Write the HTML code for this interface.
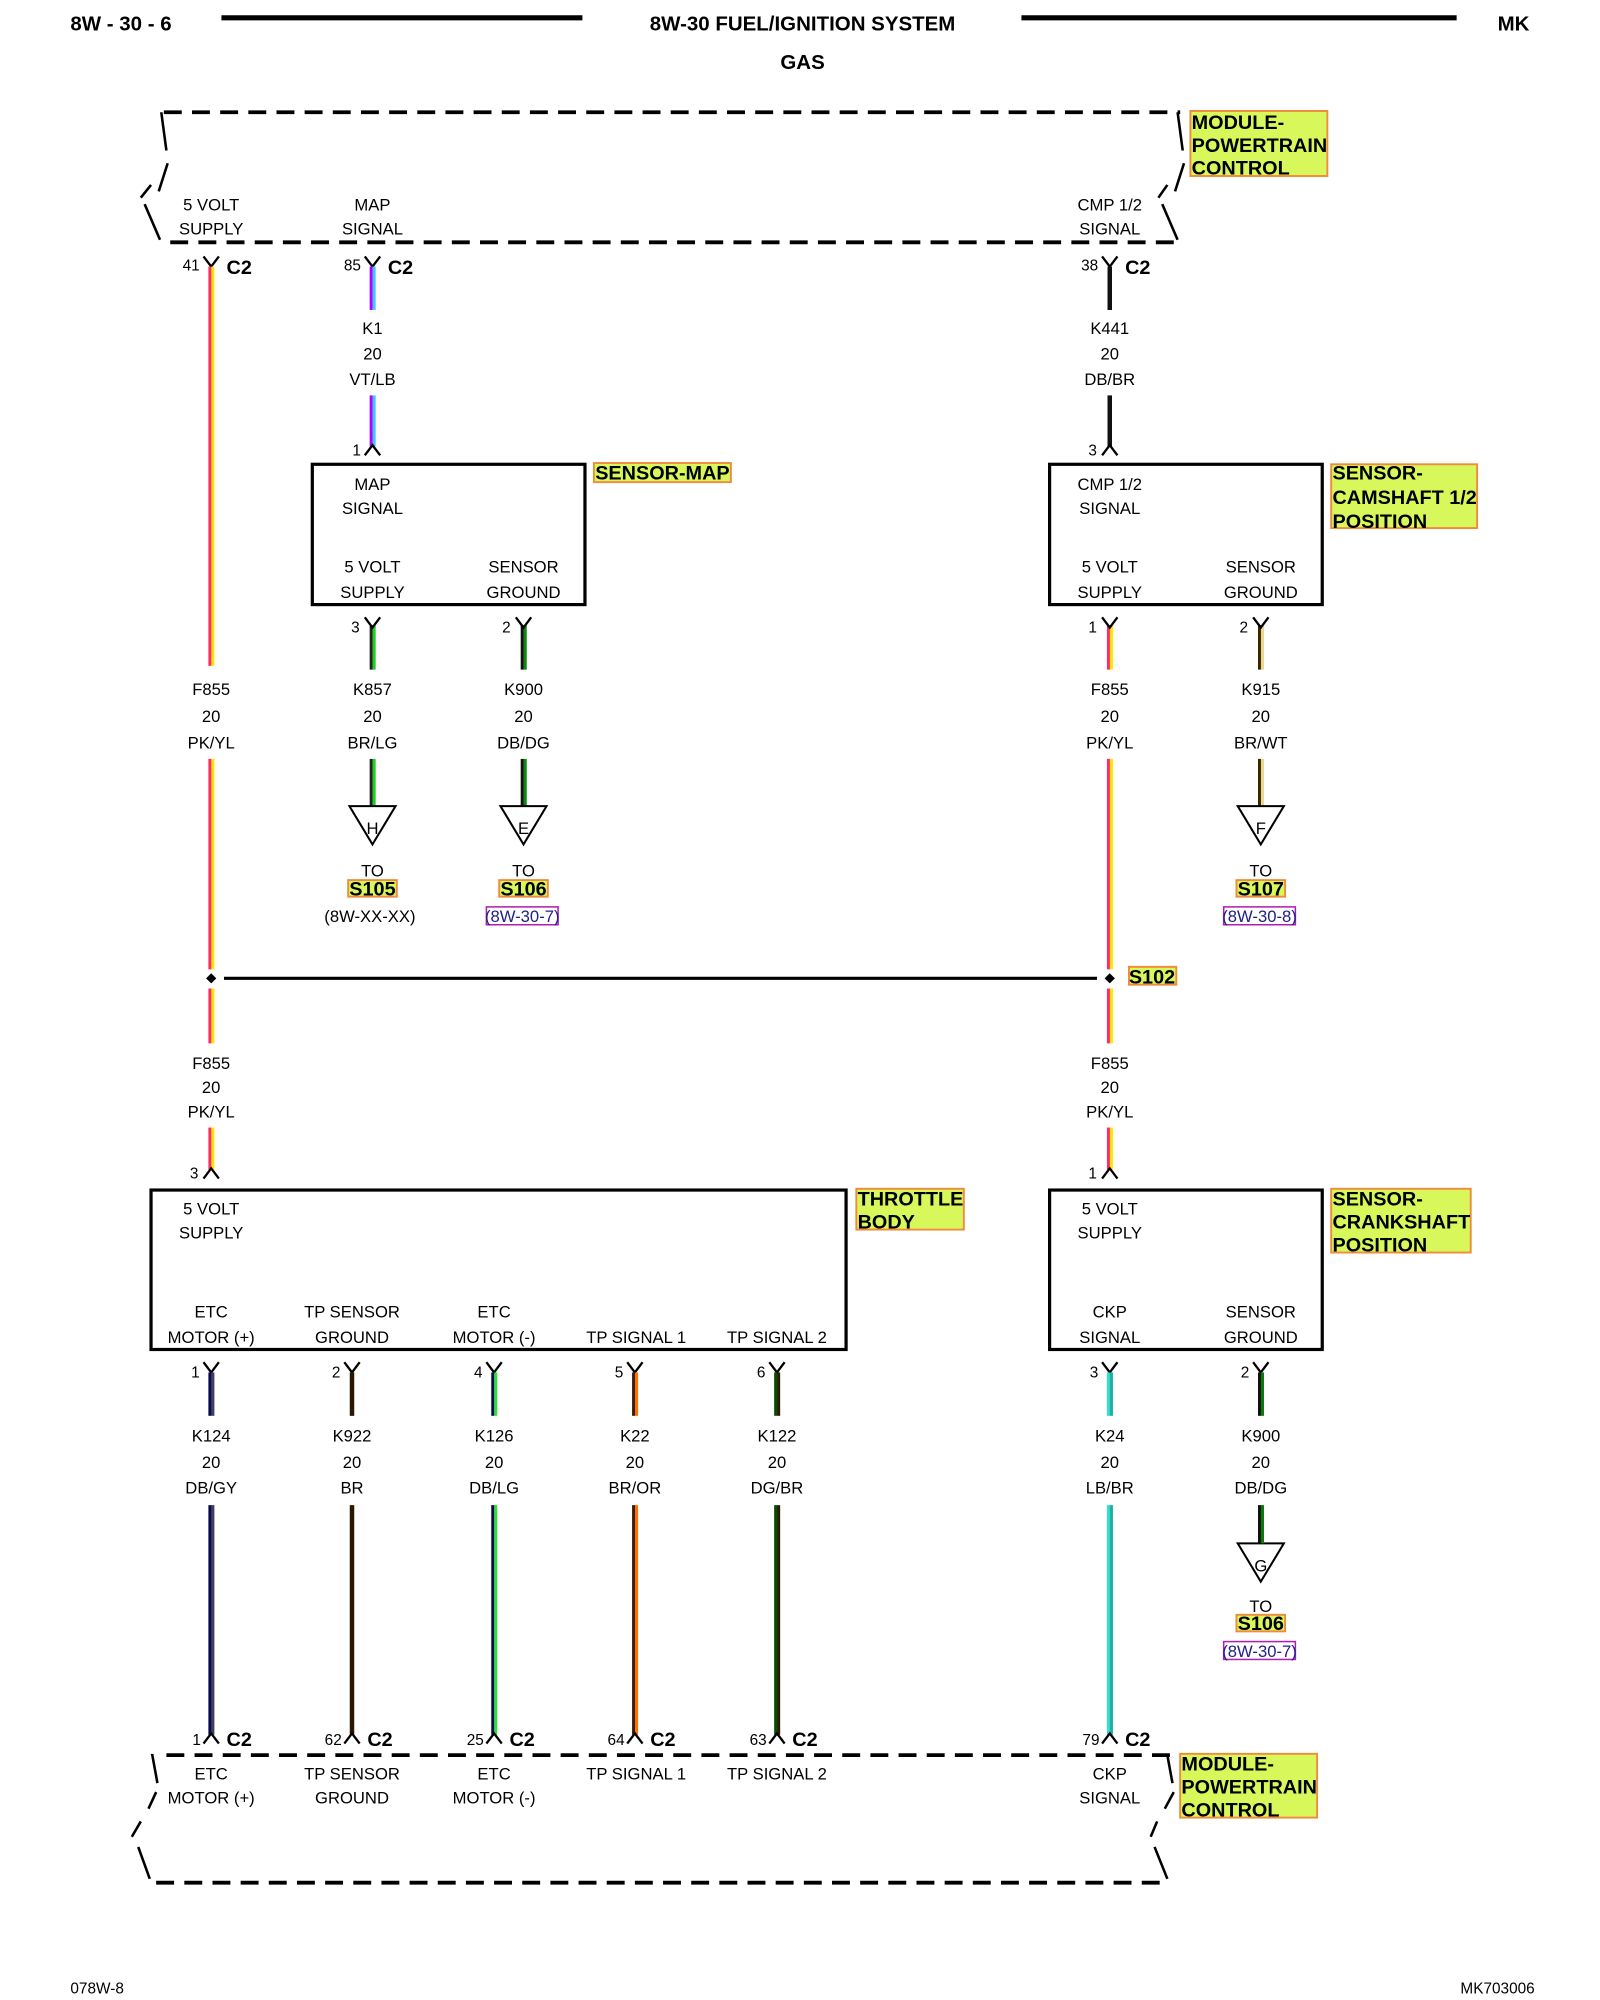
<!DOCTYPE html>
<html><head><meta charset="utf-8">
<style>
html,body{margin:0;padding:0;background:#fff;}
svg{display:block;}
text{font-family:"Liberation Sans",sans-serif;fill:#000;}
.s{font-size:13px;text-anchor:middle;}
.n{font-size:12px;text-anchor:end;}
.b{font-size:15.5px;font-weight:bold;}
.h{font-size:16px;font-weight:bold;}
.hl{fill:#d8f75a;stroke:#f08a3c;stroke-width:1.5;}
.d{fill:none;stroke:#000;stroke-width:3;stroke-dasharray:14 8;}
.box{fill:none;stroke:#000;stroke-width:2.5;}
.pin{fill:none;stroke:#000;stroke-width:1.8;}
</style></head><body>
<svg width="1600" height="2000" viewBox="0 0 1250 1568" preserveAspectRatio="none" xmlns="http://www.w3.org/2000/svg">
<!-- header -->
<text class="h" x="55" y="24">8W - 30 - 6</text>
<line x1="173" y1="14" x2="455" y2="14" stroke="#000" stroke-width="4"/>
<text class="h" x="627" y="24" text-anchor="middle">8W-30 FUEL/IGNITION SYSTEM</text>
<line x1="798" y1="14" x2="1138" y2="14" stroke="#000" stroke-width="4"/>
<text class="h" x="1170" y="24">MK</text>
<text class="h" x="627" y="54" text-anchor="middle">GAS</text>

<!-- top module -->
<line class="d" x1="128" y1="88" x2="922" y2="88"/>
<line class="d" x1="133" y1="190" x2="922" y2="190"/>
<path d="M126 88 L130 118 M131 128 L124 150 M118 145 L110 155 M113 160 L125 188" stroke="#000" stroke-width="2" fill="none"/>
<path d="M920 88 L924 118 M925 128 L918 150 M912 145 L905 155 M908 160 L920 188" stroke="#000" stroke-width="2" fill="none"/>
<rect class="hl" x="930" y="87" width="107" height="51"/>
<text class="b" x="931" y="101">MODULE-</text>
<text class="b" x="931" y="119">POWERTRAIN</text>
<text class="b" x="931" y="137">CONTROL</text>
<text class="s" x="165" y="165">5 VOLT</text><text class="s" x="165" y="184">SUPPLY</text>
<text class="s" x="291" y="165">MAP</text><text class="s" x="291" y="184">SIGNAL</text>
<text class="s" x="867" y="165">CMP 1/2</text><text class="s" x="867" y="184">SIGNAL</text>

<!-- top connectors (Y) -->
<g class="pin">
<path d="M159 201 L165 209 L171 201"/><path d="M285 201 L291 209 L297 201"/><path d="M861 201 L867 209 L873 201"/>
</g>
<text class="n" x="156" y="212">41</text><text class="b" x="177" y="215">C2</text>
<text class="n" x="282" y="212">85</text><text class="b" x="303" y="215">C2</text>
<text class="n" x="858" y="212">38</text><text class="b" x="879" y="215">C2</text>

<!-- wires column 165 PK/YL -->
<g stroke-width="2.4">
<line x1="164" y1="209" x2="164" y2="522" stroke="#ff2a6a"/><line x1="166.3" y1="209" x2="166.3" y2="522" stroke="#ffe600"/>
<line x1="164" y1="595" x2="164" y2="760" stroke="#ff2a6a"/><line x1="166.3" y1="595" x2="166.3" y2="760" stroke="#ffe600"/>
<line x1="164" y1="775" x2="164" y2="818" stroke="#ff2a6a"/><line x1="166.3" y1="775" x2="166.3" y2="818" stroke="#ffe600"/>
<line x1="164" y1="884" x2="164" y2="917" stroke="#ff2a6a"/><line x1="166.3" y1="884" x2="166.3" y2="917" stroke="#ffe600"/>
<!-- K1 VT/LB -->
<line x1="290" y1="209" x2="290" y2="243" stroke="#b000ff"/><line x1="292.3" y1="209" x2="292.3" y2="243" stroke="#40c8ff"/>
<line x1="290" y1="310" x2="290" y2="350" stroke="#b000ff"/><line x1="292.3" y1="310" x2="292.3" y2="350" stroke="#40c8ff"/>
<!-- K441 -->
<line x1="867" y1="209" x2="867" y2="243" stroke="#111" stroke-width="3.5"/>
<line x1="867" y1="310" x2="867" y2="350" stroke="#111" stroke-width="3.5"/>
<!-- K857 BR/LG -->
<line x1="290" y1="490" x2="290" y2="525" stroke="#222"/><line x1="292.3" y1="490" x2="292.3" y2="525" stroke="#20d020"/>
<line x1="290" y1="595" x2="290" y2="632" stroke="#222"/><line x1="292.3" y1="595" x2="292.3" y2="632" stroke="#20d020"/>
<!-- K900 DB/DG -->
<line x1="408" y1="490" x2="408" y2="525" stroke="#111"/><line x1="410.3" y1="490" x2="410.3" y2="525" stroke="#0a8a0a"/>
<line x1="408" y1="595" x2="408" y2="632" stroke="#111"/><line x1="410.3" y1="595" x2="410.3" y2="632" stroke="#0a8a0a"/>
<!-- F855 right -->
<line x1="866" y1="490" x2="866" y2="525" stroke="#ff2a6a"/><line x1="868.3" y1="490" x2="868.3" y2="525" stroke="#ffe600"/>
<line x1="866" y1="595" x2="866" y2="760" stroke="#ff2a6a"/><line x1="868.3" y1="595" x2="868.3" y2="760" stroke="#ffe600"/>
<line x1="866" y1="775" x2="866" y2="818" stroke="#ff2a6a"/><line x1="868.3" y1="775" x2="868.3" y2="818" stroke="#ffe600"/>
<line x1="866" y1="884" x2="866" y2="917" stroke="#ff2a6a"/><line x1="868.3" y1="884" x2="868.3" y2="917" stroke="#ffe600"/>
<!-- K915 BR/WT -->
<line x1="984" y1="490" x2="984" y2="525" stroke="#3a2600"/><line x1="986.3" y1="490" x2="986.3" y2="525" stroke="#e8d890"/>
<line x1="984" y1="595" x2="984" y2="632" stroke="#3a2600"/><line x1="986.3" y1="595" x2="986.3" y2="632" stroke="#e8d890"/>
</g>
<text class="s" x="291" y="262">K1</text><text class="s" x="291" y="282">20</text><text class="s" x="291" y="302">VT/LB</text>
<text class="s" x="867" y="262">K441</text><text class="s" x="867" y="282">20</text><text class="s" x="867" y="302">DB/BR</text>

<!-- carets into sensor boxes -->
<g class="pin"><path d="M285 357 L291 349 L297 357"/><path d="M861 357 L867 349 L873 357"/></g>
<text class="n" x="282" y="357">1</text><text class="n" x="857" y="357">3</text>

<!-- sensor MAP box -->
<rect class="box" x="244" y="364" width="213" height="110"/>
<rect class="hl" x="464" y="363" width="107" height="15"/>
<text class="b" x="465" y="376">SENSOR-MAP</text>
<text class="s" x="291" y="384">MAP</text><text class="s" x="291" y="403">SIGNAL</text>
<text class="s" x="291" y="449">5 VOLT</text><text class="s" x="291" y="469">SUPPLY</text>
<text class="s" x="409" y="449">SENSOR</text><text class="s" x="409" y="469">GROUND</text>
<!-- CMP box -->
<rect class="box" x="820" y="364" width="213" height="110"/>
<rect class="hl" x="1040" y="364" width="114" height="50"/>
<text class="b" x="1041" y="376">SENSOR-</text><text class="b" x="1041" y="395">CAMSHAFT 1/2</text><text class="b" x="1041" y="414">POSITION</text>
<text class="s" x="867" y="384">CMP 1/2</text><text class="s" x="867" y="403">SIGNAL</text>
<text class="s" x="867" y="449">5 VOLT</text><text class="s" x="867" y="469">SUPPLY</text>
<text class="s" x="985" y="449">SENSOR</text><text class="s" x="985" y="469">GROUND</text>

<!-- Y pins below sensor boxes -->
<g class="pin">
<path d="M285 484 L291 492 L297 484"/><path d="M403 484 L409 492 L415 484"/>
<path d="M861 484 L867 492 L873 484"/><path d="M979 484 L985 492 L991 484"/>
</g>
<text class="n" x="281" y="496">3</text><text class="n" x="399" y="496">2</text>
<text class="n" x="857" y="496">1</text><text class="n" x="975" y="496">2</text>

<text class="s" x="165" y="545">F855</text><text class="s" x="165" y="566">20</text><text class="s" x="165" y="587">PK/YL</text>
<text class="s" x="291" y="545">K857</text><text class="s" x="291" y="566">20</text><text class="s" x="291" y="587">BR/LG</text>
<text class="s" x="409" y="545">K900</text><text class="s" x="409" y="566">20</text><text class="s" x="409" y="587">DB/DG</text>
<text class="s" x="867" y="545">F855</text><text class="s" x="867" y="566">20</text><text class="s" x="867" y="587">PK/YL</text>
<text class="s" x="985" y="545">K915</text><text class="s" x="985" y="566">20</text><text class="s" x="985" y="587">BR/WT</text>

<!-- splice triangles -->
<g fill="#fff" stroke="#000" stroke-width="1.6">
<path d="M273 632 L309 632 L291 662 Z"/><path d="M391 632 L427 632 L409 662 Z"/><path d="M967 632 L1003 632 L985 662 Z"/>
<path d="M967 1210 L1003 1210 L985 1240 Z"/>
</g>
<text class="s" x="291" y="654">H</text><text class="s" x="409" y="654">E</text><text class="s" x="985" y="654">F</text><text class="s" x="985" y="1232">G</text>

<text class="s" x="291" y="687">TO</text><text class="s" x="409" y="687">TO</text><text class="s" x="985" y="687">TO</text><text class="s" x="985" y="1264">TO</text>
<rect class="hl" x="272" y="690" width="38" height="13"/><text class="b" x="291" y="702" text-anchor="middle">S105</text>
<rect class="hl" x="390" y="690" width="38" height="13"/><text class="b" x="409" y="702" text-anchor="middle">S106</text>
<rect class="hl" x="966" y="690" width="38" height="13"/><text class="b" x="985" y="702" text-anchor="middle">S107</text>
<rect class="hl" x="966" y="1266" width="38" height="13"/><text class="b" x="985" y="1278" text-anchor="middle">S106</text>
<text class="s" x="289" y="723">(8W-XX-XX)</text>
<rect x="380" y="711" width="56" height="14" fill="none" stroke="#b020b0" stroke-width="1.2"/><text class="s" x="408" y="723" fill="#20208a" style="fill:#20208a">(8W-30-7)</text>
<rect x="956" y="711" width="56" height="14" fill="none" stroke="#b020b0" stroke-width="1.2"/><text class="s" x="984" y="723" style="fill:#20208a">(8W-30-8)</text>
<rect x="956" y="1287" width="56" height="14" fill="none" stroke="#b020b0" stroke-width="1.2"/><text class="s" x="984" y="1299" style="fill:#20208a">(8W-30-7)</text>

<!-- S102 -->
<line x1="175" y1="767" x2="857" y2="767" stroke="#000" stroke-width="2.5"/>
<path d="M165 763 L169 767 L165 771 L161 767 Z" fill="#000"/>
<path d="M867 763 L871 767 L867 771 L863 767 Z" fill="#000"/>
<rect class="hl" x="882" y="758" width="37" height="14"/><text class="b" x="900" y="771" text-anchor="middle">S102</text>

<text class="s" x="165" y="838">F855</text><text class="s" x="165" y="857">20</text><text class="s" x="165" y="876">PK/YL</text>
<text class="s" x="867" y="838">F855</text><text class="s" x="867" y="857">20</text><text class="s" x="867" y="876">PK/YL</text>
<g class="pin"><path d="M159 924 L165 916 L171 924"/><path d="M861 924 L867 916 L873 924"/></g>
<text class="n" x="155" y="924">3</text><text class="n" x="857" y="924">1</text>

<!-- throttle body -->
<rect class="box" x="118" y="933" width="543" height="125"/>
<rect class="hl" x="669" y="932" width="84" height="32"/>
<text class="b" x="670" y="945">THROTTLE</text><text class="b" x="670" y="963">BODY</text>
<text class="s" x="165" y="952">5 VOLT</text><text class="s" x="165" y="971">SUPPLY</text>
<text class="s" x="165" y="1033">ETC</text><text class="s" x="165" y="1053">MOTOR (+)</text>
<text class="s" x="275" y="1033">TP SENSOR</text><text class="s" x="275" y="1053">GROUND</text>
<text class="s" x="386" y="1033">ETC</text><text class="s" x="386" y="1053">MOTOR (-)</text>
<text class="s" x="497" y="1053">TP SIGNAL 1</text>
<text class="s" x="607" y="1053">TP SIGNAL 2</text>
<!-- crank -->
<rect class="box" x="820" y="933" width="213" height="125"/>
<rect class="hl" x="1040" y="932" width="109" height="50"/>
<text class="b" x="1041" y="945">SENSOR-</text><text class="b" x="1041" y="963">CRANKSHAFT</text><text class="b" x="1041" y="981">POSITION</text>
<text class="s" x="867" y="952">5 VOLT</text><text class="s" x="867" y="971">SUPPLY</text>
<text class="s" x="867" y="1033">CKP</text><text class="s" x="867" y="1053">SIGNAL</text>
<text class="s" x="985" y="1033">SENSOR</text><text class="s" x="985" y="1053">GROUND</text>

<!-- bottom pins -->
<g class="pin">
<path d="M159 1068 L165 1076 L171 1068"/><path d="M269 1068 L275 1076 L281 1068"/><path d="M380 1068 L386 1076 L392 1068"/>
<path d="M490 1068 L496 1076 L502 1068"/><path d="M601 1068 L607 1076 L613 1068"/><path d="M861 1068 L867 1076 L873 1068"/>
<path d="M979 1068 L985 1076 L991 1068"/>
</g>
<text class="n" x="156" y="1080">1</text><text class="n" x="266" y="1080">2</text><text class="n" x="377" y="1080">4</text>
<text class="n" x="487" y="1080">5</text><text class="n" x="598" y="1080">6</text><text class="n" x="858" y="1080">3</text><text class="n" x="976" y="1080">2</text>

<g stroke-width="2.4">
<line x1="164" y1="1076" x2="164" y2="1110" stroke="#0a0a50"/><line x1="166.3" y1="1076" x2="166.3" y2="1110" stroke="#404058"/>
<line x1="164" y1="1180" x2="164" y2="1360" stroke="#0a0a50"/><line x1="166.3" y1="1180" x2="166.3" y2="1360" stroke="#404058"/>
<line x1="275" y1="1076" x2="275" y2="1110" stroke="#2a1800" stroke-width="3.5"/>
<line x1="275" y1="1180" x2="275" y2="1360" stroke="#2a1800" stroke-width="3.5"/>
<line x1="385" y1="1076" x2="385" y2="1110" stroke="#0a0a50"/><line x1="387.3" y1="1076" x2="387.3" y2="1110" stroke="#30e030"/>
<line x1="385" y1="1180" x2="385" y2="1360" stroke="#0a0a50"/><line x1="387.3" y1="1180" x2="387.3" y2="1360" stroke="#30e030"/>
<line x1="495" y1="1076" x2="495" y2="1110" stroke="#3a1e00"/><line x1="497.3" y1="1076" x2="497.3" y2="1110" stroke="#ff7000"/>
<line x1="495" y1="1180" x2="495" y2="1360" stroke="#3a1e00"/><line x1="497.3" y1="1180" x2="497.3" y2="1360" stroke="#ff7000"/>
<line x1="606" y1="1076" x2="606" y2="1110" stroke="#005000"/><line x1="608.3" y1="1076" x2="608.3" y2="1110" stroke="#2a1800"/>
<line x1="606" y1="1180" x2="606" y2="1360" stroke="#005000"/><line x1="608.3" y1="1180" x2="608.3" y2="1360" stroke="#2a1800"/>
<line x1="866" y1="1076" x2="866" y2="1110" stroke="#30e0d0"/><line x1="868.3" y1="1076" x2="868.3" y2="1110" stroke="#20b0a0"/>
<line x1="866" y1="1180" x2="866" y2="1360" stroke="#30e0d0"/><line x1="868.3" y1="1180" x2="868.3" y2="1360" stroke="#20b0a0"/>
<line x1="984" y1="1076" x2="984" y2="1110" stroke="#111"/><line x1="986.3" y1="1076" x2="986.3" y2="1110" stroke="#0a7a0a"/>
<line x1="984" y1="1180" x2="984" y2="1210" stroke="#111"/><line x1="986.3" y1="1180" x2="986.3" y2="1210" stroke="#0a7a0a"/>
</g>
<text class="s" x="165" y="1130">K124</text><text class="s" x="165" y="1151">20</text><text class="s" x="165" y="1171">DB/GY</text>
<text class="s" x="275" y="1130">K922</text><text class="s" x="275" y="1151">20</text><text class="s" x="275" y="1171">BR</text>
<text class="s" x="386" y="1130">K126</text><text class="s" x="386" y="1151">20</text><text class="s" x="386" y="1171">DB/LG</text>
<text class="s" x="496" y="1130">K22</text><text class="s" x="496" y="1151">20</text><text class="s" x="496" y="1171">BR/OR</text>
<text class="s" x="607" y="1130">K122</text><text class="s" x="607" y="1151">20</text><text class="s" x="607" y="1171">DG/BR</text>
<text class="s" x="867" y="1130">K24</text><text class="s" x="867" y="1151">20</text><text class="s" x="867" y="1171">LB/BR</text>
<text class="s" x="985" y="1130">K900</text><text class="s" x="985" y="1151">20</text><text class="s" x="985" y="1171">DB/DG</text>

<!-- bottom C2 carets -->
<g class="pin">
<path d="M159 1367 L165 1359 L171 1367"/><path d="M269 1367 L275 1359 L281 1367"/><path d="M380 1367 L386 1359 L392 1367"/>
<path d="M490 1367 L496 1359 L502 1367"/><path d="M601 1367 L607 1359 L613 1367"/><path d="M861 1367 L867 1359 L873 1367"/>
</g>
<text class="n" x="157" y="1368">1</text><text class="b" x="177" y="1369">C2</text>
<text class="n" x="267" y="1368">62</text><text class="b" x="287" y="1369">C2</text>
<text class="n" x="378" y="1368">25</text><text class="b" x="398" y="1369">C2</text>
<text class="n" x="488" y="1368">64</text><text class="b" x="508" y="1369">C2</text>
<text class="n" x="599" y="1368">63</text><text class="b" x="619" y="1369">C2</text>
<text class="n" x="859" y="1368">79</text><text class="b" x="879" y="1369">C2</text>

<!-- bottom module -->
<line class="d" x1="130" y1="1376" x2="914" y2="1376"/>
<line class="d" x1="122" y1="1476" x2="914" y2="1476"/>
<path d="M120 1376 L119 1376 L123 1398 M122 1405 L116 1418 M110 1428 L103 1440 M108 1448 L117 1473" stroke="#000" stroke-width="2" fill="none"/>
<path d="M912 1376 L916 1398 M917 1405 L910 1418 M904 1428 L899 1440 M902 1448 L912 1473" stroke="#000" stroke-width="2" fill="none"/>
<rect class="hl" x="922" y="1375" width="107" height="50"/>
<text class="b" x="923" y="1388">MODULE-</text><text class="b" x="923" y="1406">POWERTRAIN</text><text class="b" x="923" y="1424">CONTROL</text>
<text class="s" x="165" y="1395">ETC</text><text class="s" x="165" y="1414">MOTOR (+)</text>
<text class="s" x="275" y="1395">TP SENSOR</text><text class="s" x="275" y="1414">GROUND</text>
<text class="s" x="386" y="1395">ETC</text><text class="s" x="386" y="1414">MOTOR (-)</text>
<text class="s" x="497" y="1395">TP SIGNAL 1</text>
<text class="s" x="607" y="1395">TP SIGNAL 2</text>
<text class="s" x="867" y="1395">CKP</text><text class="s" x="867" y="1414">SIGNAL</text>

<!-- footer -->
<text x="55" y="1563" style="font-size:12px">078W-8</text>
<text x="1199" y="1563" style="font-size:12px;text-anchor:end">MK703006</text>
</svg>
</body></html>
